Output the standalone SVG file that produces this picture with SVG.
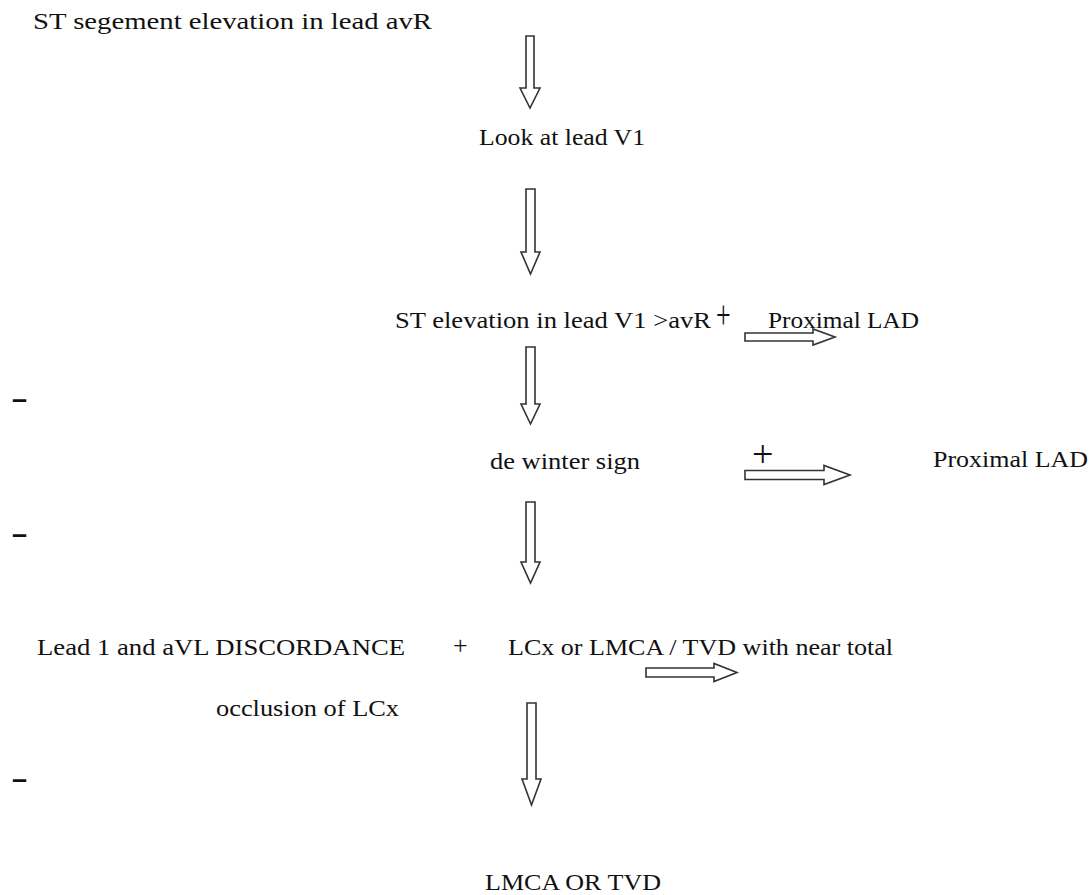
<svg xmlns="http://www.w3.org/2000/svg" width="1092" height="895" viewBox="0 0 1092 895">
<style>
text{font-family:"Liberation Serif","Times New Roman",serif;font-size:24px;fill:#111}
.arr{fill:#fff;stroke:#333;stroke-width:1.6;stroke-linejoin:miter}
.minus{font-family:"Liberation Sans",Arial,sans-serif;font-weight:bold;font-size:27px}
</style>
<rect width="1092" height="895" fill="#fff"/>
<g id="connectors">
<path class="arr" d="M526,36 H534 V88 H540 L530,108 L520,88 H526 Z"/>
<path class="arr" d="M526,189 H535 V252 H540 L530.5,274 L521,252 H526 Z"/>
<path class="arr" d="M526,347 H535 V404 H540 L530.5,424 L521,404 H526 Z"/>
<path class="arr" d="M526,502 H535 V562 H540 L530.5,583 L521,562 H526 Z"/>
<path class="arr" d="M527,703 H536 V779 H541 L531.5,805 L522,779 H527 Z"/>
<path class="arr" d="M745,333 H813 V329 L835,337 L813,345 V341 H745 Z"/>
<path class="arr" d="M745,470.5 H824 V465.5 L850,475 L824,484.5 V479.5 H745 Z"/>
<path class="arr" d="M646,668 H714 V663.5 L737,672.5 L714,681.5 V677 H646 Z"/>
</g>
<g id="n1"><text x="33" y="29" textLength="399" lengthAdjust="spacingAndGlyphs">ST segement elevation in lead avR</text></g>
<g id="n2"><text x="479" y="145" textLength="166" lengthAdjust="spacingAndGlyphs">Look at lead V1</text></g>
<g id="n3"><text x="395" y="328" textLength="316" lengthAdjust="spacingAndGlyphs">ST elevation in lead V1 &gt;avR</text><text transform="translate(716,328) scale(1,1.5)" style="font-size:26px">+</text></g>
<g id="n4"><text x="768" y="328" textLength="151" lengthAdjust="spacingAndGlyphs">Proximal LAD</text></g>
<g id="n5"><text x="490" y="469" textLength="150" lengthAdjust="spacingAndGlyphs">de winter sign</text><text x="752" y="467" style="font-size:38px">+</text></g>
<g id="n6"><text x="933" y="467" textLength="155" lengthAdjust="spacingAndGlyphs">Proximal LAD</text></g>
<g id="n7"><text x="37" y="655" textLength="368" lengthAdjust="spacingAndGlyphs">Lead 1 and aVL DISCORDANCE</text><text x="453" y="654" style="font-size:26px">+</text><text x="216" y="716" textLength="183" lengthAdjust="spacingAndGlyphs">occlusion of LCx</text></g>
<g id="n8"><text x="508" y="655" textLength="385" lengthAdjust="spacingAndGlyphs">LCx or LMCA / TVD with near total</text></g>
<g id="n9"><text x="485" y="890" textLength="176" lengthAdjust="spacingAndGlyphs">LMCA OR TVD</text></g>
<g id="minus"><text class="minus" x="12" y="407.5">–</text><text class="minus" x="12" y="542.5">–</text><text class="minus" x="12" y="787.5">–</text></g>
</svg>
